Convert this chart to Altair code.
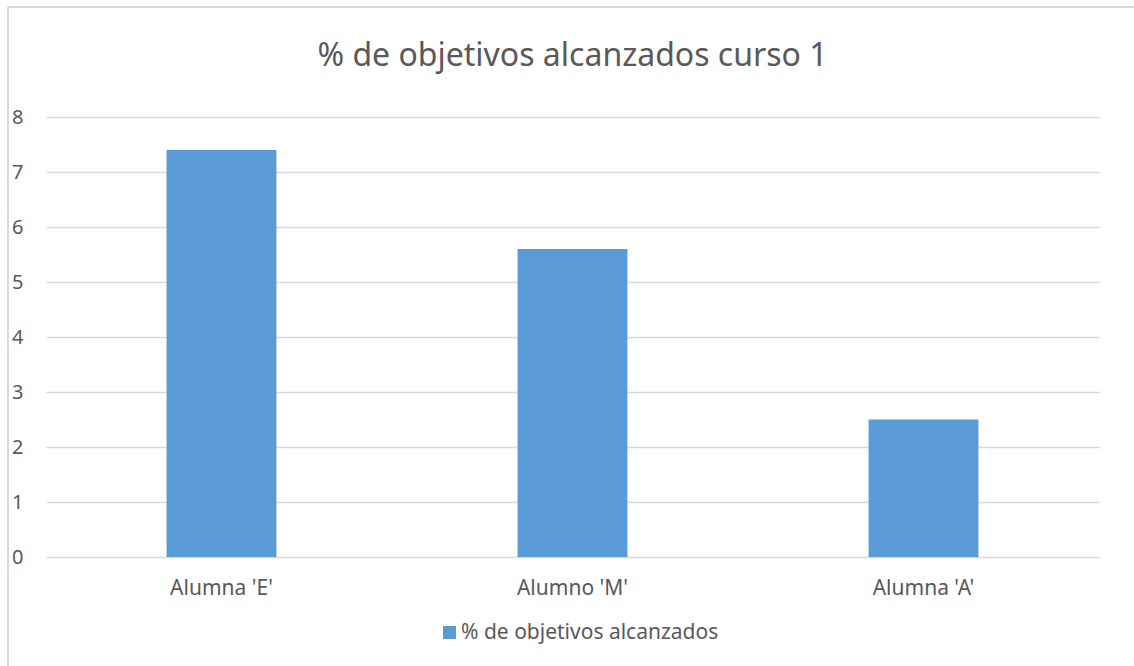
import altair as alt
import pandas as pd

# Students and their share of objectives reached
alumnos = ["Alumna 'E'", "Alumno 'M'", "Alumna 'A'"]
valores = [7.4, 5.6, 2.5]
serie = "% de objetivos alcanzados"

df = pd.DataFrame({"alumno": alumnos, "valor": valores, "serie": [serie] * len(alumnos)})

FONT = "Noto Sans"
TEXT = "#595959"
GRID = "#d9d9d9"
BAR = "#5B9BD5"

W, H = 1053, 440

bars = alt.Chart(df).mark_bar(color=BAR).encode(
    x=alt.X(
        "alumno:N",
        sort=alumnos,
        title=None,
        scale=alt.Scale(paddingInner=0.687, paddingOuter=0.3435),
        axis=alt.Axis(
            labelAngle=0, labelFontSize=21, labelColor=TEXT, labelFont=FONT,
            labelPadding=20, ticks=False, domain=False, grid=False,
        ),
    ),
    y=alt.Y(
        "valor:Q",
        title=None,
        scale=alt.Scale(domain=[0, 8], nice=False),
        axis=alt.Axis(
            values=list(range(0, 9)), labelFontSize=20, labelColor=TEXT, labelFont=FONT,
            labelPadding=23, ticks=False, domain=False, gridColor=GRID, gridWidth=1.5,
        ),
    ),
    color=alt.Color(
        "serie:N",
        scale=alt.Scale(range=[BAR]),
        legend=alt.Legend(
            title=None, orient="none", legendX=393, legendY=505, symbolType="square",
            symbolSize=169, symbolStrokeWidth=0, labelFontSize=21, labelColor=TEXT,
            labelFont=FONT, padding=0, labelOffset=1, labelLimit=1000,
        ),
    ),
)

# light outline along the top and left of the chart area
frame_top = alt.Chart(df).mark_rule(stroke=GRID, strokeWidth=1.5).encode(
    x=alt.value(-38), x2=alt.value(W + 100), y=alt.value(-110)
)
frame_left = alt.Chart(df).mark_rule(stroke=GRID, strokeWidth=1.5).encode(
    x=alt.value(-38), y=alt.value(-110), y2=alt.value(H + 200)
)

chart = alt.layer(frame_top, frame_left, bars).properties(
    width=W,
    height=H,
    background="white",
    title=alt.Title(
        "% de objetivos alcanzados curso 1",
        fontSize=32, font=FONT, color=TEXT, fontWeight="normal", anchor="middle", offset=-67,
    ),
    autosize=alt.AutoSizeParams(type="none"),
    padding={"left": 46, "top": 117, "right": 35, "bottom": 109},
).configure_view(stroke="transparent", strokeWidth=0)

chart.save("out.html", embed_options={"renderer": "svg", "actions": False})
